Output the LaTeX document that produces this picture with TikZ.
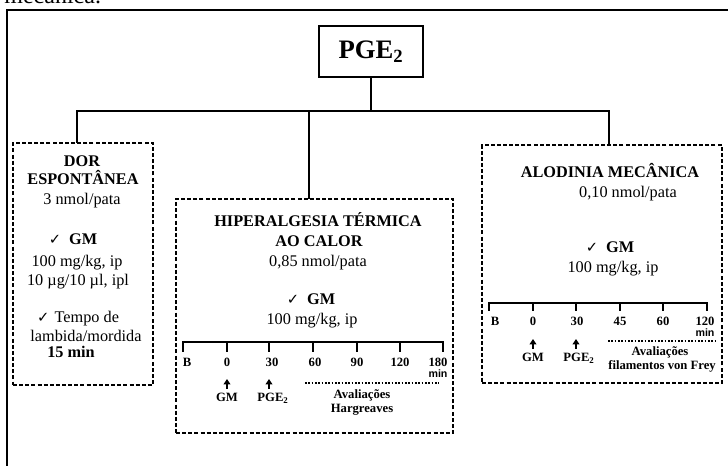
\documentclass[tikz,border=0pt]{standalone}
\usepackage{fontspec}
\setmainfont{Liberation Serif}
\newfontfamily\symfont{DejaVu Sans}
\newfontfamily\arialfont{Liberation Sans}
\usetikzlibrary{arrows.meta}
\newcommand{\ckmark}{{\symfont\fontsize{11}{11}\selectfont ✓}}

\begin{document}
\begin{tikzpicture}[x=0.75pt,y=-0.75pt,
  every node/.style={inner sep=0pt, outer sep=0pt},
  body/.style={anchor=base, font=\fontsize{12.2}{14}\selectfont},
  head/.style={anchor=base, font=\bfseries\fontsize{12.2}{14}\selectfont},
  lab/.style={anchor=base, font=\bfseries\fontsize{9.5}{10}\selectfont},
  unitlab/.style={anchor=base, font=\arialfont\bfseries\fontsize{8}{9}\selectfont},
  frame/.style={line width=1.3pt},
  link/.style={line width=1.6pt},
  panel/.style={draw, line width=0.9pt, dash pattern=on 3pt off 1.6pt},
  axis/.style={line width=1.6pt},
  cue/.style={line width=1.4pt, -{Triangle[length=4pt,width=5pt]}},
  assess/.style={line width=1.5pt, dash pattern=on 1.3pt off 1.2pt},
]
\useasboundingbox (0,0) rectangle (728,466);

% outer frame and caption tail
\draw[frame] (7,480) -- (7,10) -- (740,10);
\node[anchor=base east, font=\fontsize{18}{18}\selectfont] (cap) at (101,3.5) {mecânica.};

% root
\node[draw, line width=1.1pt, minimum width=78pt, minimum height=38.25pt] (pge) at (371,51.5)
  {\bfseries\fontsize{20}{20}\selectfont PGE\textsubscript{2}};

% panels
\node[panel, minimum width=105pt, minimum height=181.5pt] (dor) at (83,264) {};
\node[panel, minimum width=207.75pt, minimum height=175.5pt] (hip) at (314.5,316) {};
\node[panel, minimum width=180pt, minimum height=178.5pt] (alo) at (602,264) {};

% tree connectors
\coordinate (hub) at (371,111);
\coordinate (bl) at (77,111);
\coordinate (bm) at (309,111);
\coordinate (br) at (609,111);
\draw[link] (pge.south) -- (hub);
\draw[link, line cap=rect] (bl) -- (br);
\draw[link] (bl) -- (bl |- dor.north);
\draw[link] (bm) -- (bm |- hip.north);
\draw[link] (br) -- (br |- alo.north);

% spontaneous pain
\node[head] (d1) at (82,167) {DOR};
\node[head] (d2) at (83,185) {ESPONTÂNEA};
\node[body] (d3) at (82,205) {3 nmol/pata};
\node[body] (d4) at (73,245) {\ckmark\hspace{6pt}\textbf{GM}};
\node[body] (d5) at (77,267) {100 mg/kg, ip};
\node[body] (d6) at (78,286) {10 µg/10 µl, ipl};
\node[body] (d7) at (78,323) {\ckmark\hspace{4pt}Tempo de};
\node[body] (d8) at (86,342) {lambida/mordida};
\node[head] (d9) at (71,358) {15 min};

% thermal hyperalgesia
\node[head] (h1) at (318,227) {HIPERALGESIA TÉRMICA};
\node[head] (h2) at (319,247) {AO CALOR};
\node[body] (h3) at (318,267) {0,85 nmol/pata};
\node[body] (h4) at (311,305) {\ckmark\hspace{6pt}\textbf{GM}};
\node[body] (h5) at (312,325) {100 mg/kg, ip};

\draw[axis] (183,352) -- (183,342) -- (443,342) -- (443,352);
\foreach \x in {227,269,313,357,400} \draw[axis] (\x,342) -- (\x,352);
\node[lab] (hB) at (187,367) {B};
\node[lab] (h0) at (227,367) {0};
\node[lab] (h30) at (272,367) {30};
\node[lab] (h60) at (315,367) {60};
\node[lab] (h90) at (357,367) {90};
\node[lab] (h120) at (400,367) {120};
\node[lab] (h180) at (438,367) {180};
\node[unitlab] (hmin) at (438,378) {min};
\node[lab] (hgm) at (227,402) {GM};
\node[lab] (hpg) at (273,402) {PGE\textsubscript{2}};
\draw[cue] (227,389) -- (227,379);
\draw[cue] (269,389) -- (269,379);
\coordinate (hs) at (305,383);
\coordinate (he) at (439,383);
\draw[assess] (hs) -- (he);
\node[lab] (ha1) at (362,398) {Avaliações};
\node[lab] (ha2) at (362,412) {Hargreaves};

% mechanical allodynia
\node[head] (a1) at (610,178) {ALODINIA MECÂNICA};
\node[body] (a2) at (628,198) {0,10 nmol/pata};
\node[body] (a3) at (610,253) {\ckmark\hspace{6pt}\textbf{GM}};
\node[body] (a4) at (613,273) {100 mg/kg, ip};

\draw[axis] (489,311) -- (489,303) -- (707,303) -- (707,311);
\foreach \x in {533,576,620,663} \draw[axis] (\x,303) -- (\x,311);
\node[lab] (aB) at (495,326) {B};
\node[lab] (a0) at (533,326) {0};
\node[lab] (a30) at (577,326) {30};
\node[lab] (a45) at (620,326) {45};
\node[lab] (a60) at (663,326) {60};
\node[lab] (a120) at (705,326) {120};
\node[unitlab] (amin) at (705,337) {min};
\node[lab] (agm) at (533,362) {GM};
\node[lab] (apg) at (579,362) {PGE\textsubscript{2}};
\draw[cue] (533,349) -- (533,339);
\draw[cue] (576,349) -- (576,339);
\coordinate (as) at (608,341);
\coordinate (ae) at (715,341);
\draw[assess] (as) -- (ae);
\node[lab] (aa1) at (660,356) {Avaliações};
\node[lab] (aa2) at (662,370) {filamentos von Frey};
\end{tikzpicture}
\end{document}
